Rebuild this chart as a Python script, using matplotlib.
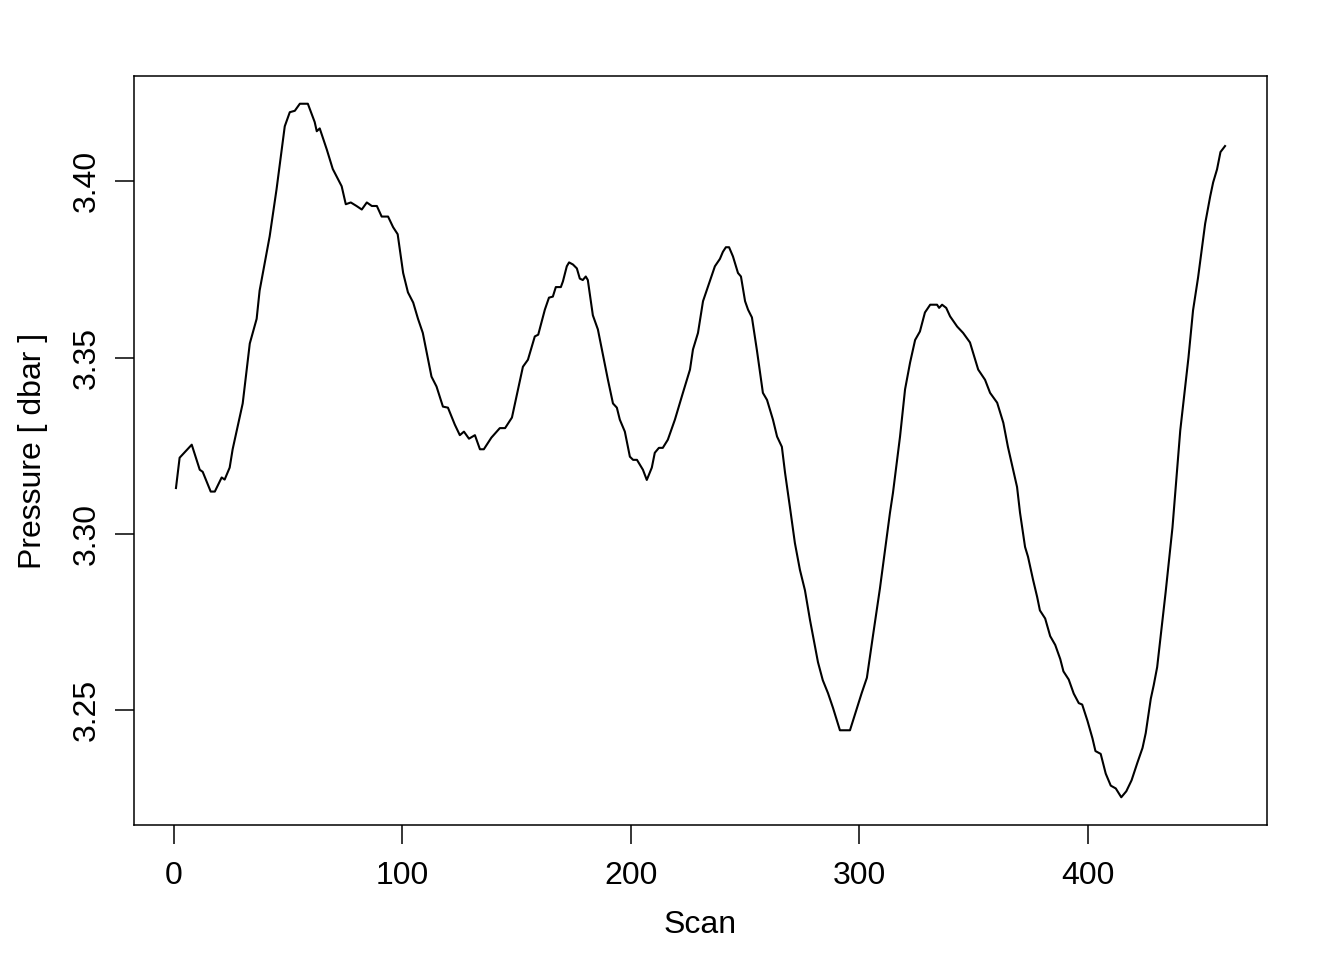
import matplotlib
matplotlib.use("Agg")
import matplotlib.pyplot as plt
import numpy as np

plt.rcParams['font.family'] = ['Liberation Sans', 'DejaVu Sans']

# values (scan index, pressure in dbar)
scan = [1, 2.6, 7.9, 11.4, 12.7, 16.2, 18, 21, 22.3, 24.5, 25.8, 30.2, 33.3, 36.3, 37.6,
        42, 45, 48.6, 50.8, 53, 55.2, 58.7, 61.7, 62.6, 63.9, 67, 69.6, 73.5, 75.3, 77.5,
        80, 82.3, 84.5, 86.7, 88.9, 91, 93.8, 96, 98, 100.4, 102.5, 104.8, 106.9, 109,
        112.8, 115, 117.8, 120, 123, 125.2, 127, 129.2, 131.8, 134, 135.7, 139, 142.7, 145,
        148, 150, 152.8, 155, 158, 159.5, 162.4, 164.2, 165.9, 167.2, 169.4, 170.3, 172,
        173, 174.7, 176.4, 177.7, 179, 180.3, 181.2, 183.4, 185.6, 190, 192.2, 193.9, 195.2,
        197.4, 199.6, 201, 202.7, 205.3, 207, 209.2, 210.5, 212.3, 214, 216.2, 219.3, 222.8,
        225.9, 227.2, 229.4, 231.6, 233.7, 236.8, 239, 240.3, 241.6, 243, 244.7, 246.9,
        248.2, 250, 251.3, 253, 255.2, 257.8, 259.6, 262.2, 264, 266.1, 267.5, 269.6, 271.8,
        274, 276.2, 278.4, 280.6, 281.9, 284, 286.3, 288.5, 290.2, 291.5, 295.9, 298, 301,
        303.3, 306, 309, 312, 313.4, 314.7, 317.8, 320, 322.2, 324.4, 326.5, 328.7, 331, 334,
        334.9, 336.2, 338, 339.7, 342.8, 345.4, 348.4, 352, 355, 357.2, 360.3, 363, 365,
        367.3, 369, 370.3, 372.5, 373.8, 376, 377.8, 379, 381.3, 383.5, 385.7, 387.9, 389.3,
        391.6, 393.8, 396, 397.5, 399.8, 402, 403.3, 405.6, 407.8, 410, 412.2, 414.6, 416.8,
        419.1, 421.6, 423.9, 425.3, 427.5, 428.8, 430.3, 431.8, 434, 437, 440.4, 444, 446,
        448.2, 451.3, 453.5, 454.8, 456.5, 458, 460]

pressure = [3.313, 3.3216, 3.3253, 3.3182, 3.3176, 3.312, 3.312, 3.316, 3.3154, 3.3188, 3.324,
            3.337, 3.354, 3.361, 3.369, 3.3844, 3.3977, 3.4156, 3.4196, 3.420, 3.422, 3.422,
            3.4168, 3.4142, 3.415, 3.409, 3.4035, 3.3986, 3.3935, 3.394, 3.393, 3.392, 3.394,
            3.393, 3.393, 3.390, 3.390, 3.387, 3.385, 3.374, 3.3685, 3.3656, 3.361, 3.357,
            3.3446, 3.3418, 3.3361, 3.3358, 3.331, 3.328, 3.329, 3.327, 3.328, 3.324, 3.324,
            3.3273, 3.330, 3.330, 3.333, 3.339, 3.3474, 3.3494, 3.356, 3.3565, 3.3636, 3.367,
            3.3673, 3.370, 3.370, 3.3716, 3.3759, 3.377, 3.3764, 3.3753, 3.3724, 3.372, 3.373,
            3.372, 3.362, 3.358, 3.3437, 3.337, 3.3358, 3.3324, 3.329, 3.3219, 3.321, 3.321,
            3.3182, 3.3153, 3.3188, 3.323, 3.3244, 3.3244, 3.3267, 3.3324, 3.340, 3.3466,
            3.3523, 3.357, 3.366, 3.370, 3.3759, 3.378, 3.380, 3.3813, 3.3813, 3.3787, 3.374,
            3.373, 3.366, 3.3636, 3.3614, 3.352, 3.340, 3.338, 3.3324, 3.3276, 3.3247, 3.3173,
            3.3077, 3.2974, 3.2898, 3.284, 3.2756, 3.268, 3.2636, 3.2585, 3.2548, 3.2506,
            3.247, 3.2443, 3.2443, 3.2486, 3.2548, 3.2592, 3.2713, 3.2845, 3.2991, 3.306,
            3.3116, 3.3276, 3.341, 3.3486, 3.355, 3.3574, 3.3628, 3.365, 3.365, 3.3641, 3.365,
            3.3641, 3.3617, 3.3588, 3.357, 3.3543, 3.3466, 3.3437, 3.340, 3.3372, 3.3315,
            3.3247, 3.3182, 3.3133, 3.306, 3.2963, 3.2935, 3.287, 3.2821, 3.2783, 3.276, 3.271,
            3.2685, 3.2645, 3.261, 3.2587, 3.2547, 3.252, 3.2516, 3.247, 3.242, 3.2384, 3.2376,
            3.232, 3.2286, 3.2278, 3.2253, 3.227, 3.2301, 3.235, 3.2393, 3.2435, 3.2532,
            3.2571, 3.2622, 3.2707, 3.2834, 3.3018, 3.3293, 3.35, 3.3634, 3.3727, 3.388,
            3.3957, 3.3997, 3.4034, 3.4083, 3.410]

x_ticks = [0, 100, 200, 300, 400]
y_ticks = [3.25, 3.30, 3.35, 3.40]
y_tick_labels = ["3.25", "3.30", "3.35", "3.40"]

fig = plt.figure(figsize=(13.44, 9.6), dpi=100)
ax = fig.add_axes([134 / 1344, 1 - 825 / 960, (1267 - 134) / 1344, (825 - 76) / 960])

ax.plot(scan, pressure, color="black", linewidth=1.5)

# R style 4% padding around the data range
xs = np.array(scan)
ps = np.array(pressure)
xpad = 0.04 * (xs.max() - xs.min())
ppad = 0.04 * (ps.max() - ps.min())
ax.set_xlim(xs.min() - xpad, xs.max() + xpad)
ax.set_ylim(ps.min() - ppad, ps.max() + ppad)

ax.set_xticks(x_ticks)
ax.set_xticklabels([str(t) for t in x_ticks])
ax.set_yticks(y_ticks)
ax.set_yticklabels(y_tick_labels, rotation=90, va="center")

ax.tick_params(axis="both", direction="out", length=14, width=1.1, labelsize=23,
               color="black", labelcolor="black")
ax.tick_params(axis="x", pad=12)
ax.tick_params(axis="y", pad=9)

for sp in ax.spines.values():
    sp.set_linewidth(1.1)
    sp.set_color("black")

ax.set_xlabel("Scan", fontsize=23)
ax.xaxis.set_label_coords(0.5, (825 - 925) / 749)
ax.xaxis.label.set_va("center")
ax.set_ylabel("Pressure [ dbar ]", fontsize=23)
ax.yaxis.set_label_coords((33 - 134) / 1133, 0.5)
ax.yaxis.label.set_va("center")

fig.savefig("out.png", dpi=100)
